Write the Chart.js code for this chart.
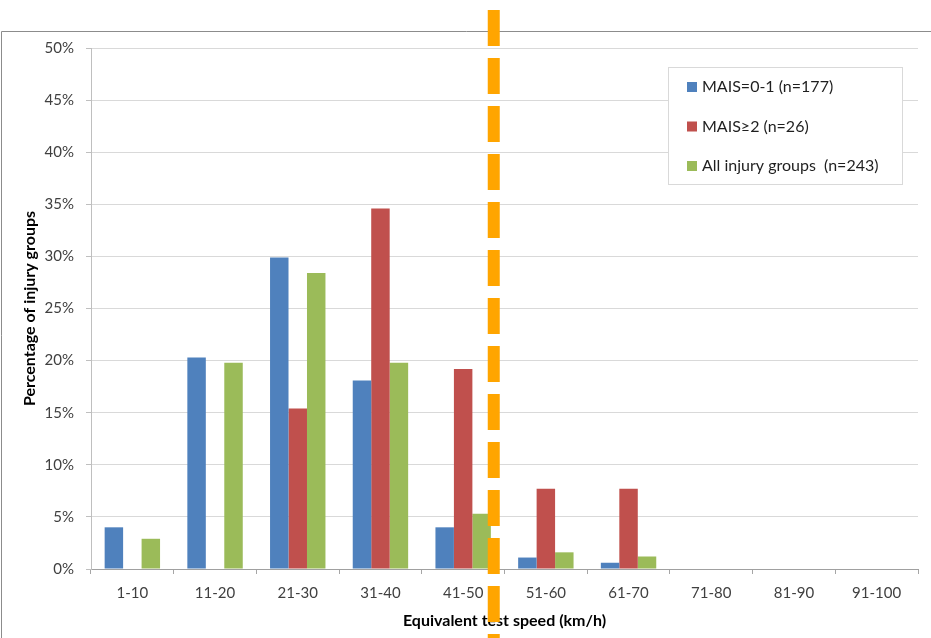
<!DOCTYPE html>
<html>
<head>
<meta charset="utf-8">
<script src="https://cdn.jsdelivr.net/npm/chart.js@4/dist/chart.umd.min.js"></script>
<style>
  html, body { margin: 0; padding: 0; background: #ffffff; }
  #wrap { width: 931px; height: 638px; }
</style>
</head>
<body>
<div id="wrap"><canvas id="chart" width="931" height="638"></canvas></div>
<script>
// Speed bands (km/h) and share of each injury group per band (%)
const speedBands = ['1-10', '11-20', '21-30', '31-40', '41-50', '51-60', '61-70', '71-80', '81-90', '91-100'];
const mais01    = [4.0, 20.3, 29.9, 18.1, 4.0, 1.1, 0.6, 0, 0, 0];
const mais2plus = [0, 0, 15.4, 34.6, 19.2, 7.7, 7.7, 0, 0, 0];
const allGroups = [2.9, 19.8, 28.4, 19.8, 5.3, 1.6, 1.2, 0, 0, 0];
const seriesLabels = ['MAIS=0-1 (n=177)', 'MAIS\u22652 (n=26)', 'All injury groups  (n=243)'];
const seriesColors = ['#4F81BD', '#C0504D', '#9BBB59'];
const yMax = 50;
const yStep = 5;
// Cut-off marker, in category-index units along the speed axis
const cutoffIndex = 4.37;

const FONT = 'Lato, "Open Sans", "Liberation Sans", sans-serif';

// Outer frame of the chart object
const framePlugin = {
  id: 'frame',
  beforeDraw(chart) {
    const ctx = chart.ctx;
    ctx.save();
    ctx.strokeStyle = '#8C8C8C';
    ctx.lineWidth = 1;
    ctx.beginPath();
    ctx.moveTo(1.5, chart.height + 2);
    ctx.lineTo(1.5, 31.5);
    ctx.lineTo(chart.width + 2, 31.5);
    ctx.stroke();
    ctx.restore();
  }
};

// Boxed legend floating in the upper right of the plot
const boxLegendPlugin = {
  id: 'boxLegend',
  afterDraw(chart) {
    const ctx = chart.ctx;
    const area = chart.chartArea;
    const w = 234, h = 117;
    const x0 = area.right - 16 - w;
    const y0 = area.top + 19;
    ctx.save();
    ctx.fillStyle = '#ffffff';
    ctx.fillRect(x0, y0, w, h);
    ctx.strokeStyle = '#D9D9D9';
    ctx.lineWidth = 1;
    ctx.strokeRect(Math.round(x0) + 0.5, Math.round(y0) + 0.5, w, h);
    ctx.font = '16px ' + FONT;
    ctx.textBaseline = 'middle';
    ctx.textAlign = 'left';
    chart.data.datasets.forEach((ds, i) => {
      const cy = y0 + 20 + i * 39.5;
      ctx.fillStyle = ds.backgroundColor;
      ctx.fillRect(x0 + 19, cy - 5, 10, 10);
      ctx.fillStyle = '#1F1F1F';
      ctx.fillText(ds.label, x0 + 34, cy);
    });
    ctx.restore();
  }
};

// Thick dashed orange cut-off line running the full height of the page
const cutoffPlugin = {
  id: 'cutoff',
  afterDraw(chart) {
    const xs = chart.scales.x;
    const base = Math.floor(cutoffIndex);
    const p0 = xs.getPixelForValue(base);
    const p1 = xs.getPixelForValue(base + 1);
    const x = p0 + (cutoffIndex - base) * (p1 - p0);
    const ctx = chart.ctx;
    ctx.save();
    ctx.strokeStyle = '#FFA500';
    ctx.lineWidth = 12;
    ctx.lineCap = 'butt';
    ctx.setLineDash([36, 12]);
    ctx.beginPath();
    ctx.moveTo(x, 10);
    ctx.lineTo(x, chart.height + 40);
    ctx.stroke();
    ctx.restore();
  }
};

new Chart(document.getElementById('chart'), {
  type: 'bar',
  data: {
    labels: speedBands,
    datasets: [mais01, mais2plus, allGroups].map((vals, i) => ({
      label: seriesLabels[i],
      data: vals,
      backgroundColor: seriesColors[i],
      borderWidth: 0,
      categoryPercentage: 0.67,
      barPercentage: 1.0
    }))
  },
  options: {
    responsive: false,
    animation: false,
    devicePixelRatio: 1,
    layout: { padding: { left: 0, top: 48, right: 13, bottom: 0 } },
    plugins: {
      legend: { display: false },
      tooltip: { enabled: false }
    },
    scales: {
      x: {
        afterFit(s) { s.height = 69; },
        grid: {
          display: true,
          drawOnChartArea: false,
          drawTicks: true,
          tickLength: 5,
          tickColor: '#A6A6A6',
          offset: true
        },
        border: { display: true, color: '#A0A0A0', width: 1 },
        ticks: {
          color: '#404040',
          padding: 10,
          maxRotation: 0,
          autoSkip: false,
          font: { family: FONT, size: 15 }
        },
        title: {
          display: true,
          text: 'Equivalent test speed (km/h)',
          color: '#000000',
          padding: { top: 0, bottom: 8 },
          font: { family: FONT, size: 16, weight: 'bold' }
        }
      },
      y: {
        min: 0,
        max: yMax,
        afterFit(s) { s.width = 91; },
        grid: {
          color: '#D9D9D9',
          lineWidth: 1,
          drawTicks: true,
          tickLength: 5,
          tickColor: '#BFBFBF'
        },
        border: { display: true, color: '#BFBFBF', width: 1 },
        ticks: {
          stepSize: yStep,
          color: '#404040',
          padding: 12,
          font: { family: FONT, size: 15 },
          callback: v => v + '%'
        },
        title: {
          display: true,
          text: 'Percentage of injury groups',
          color: '#000000',
          padding: { top: 20, bottom: 0 },
          font: { family: FONT, size: 16, weight: 'bold' }
        }
      }
    }
  },
  plugins: [framePlugin, boxLegendPlugin, cutoffPlugin]
});
</script>
</body>
</html>
